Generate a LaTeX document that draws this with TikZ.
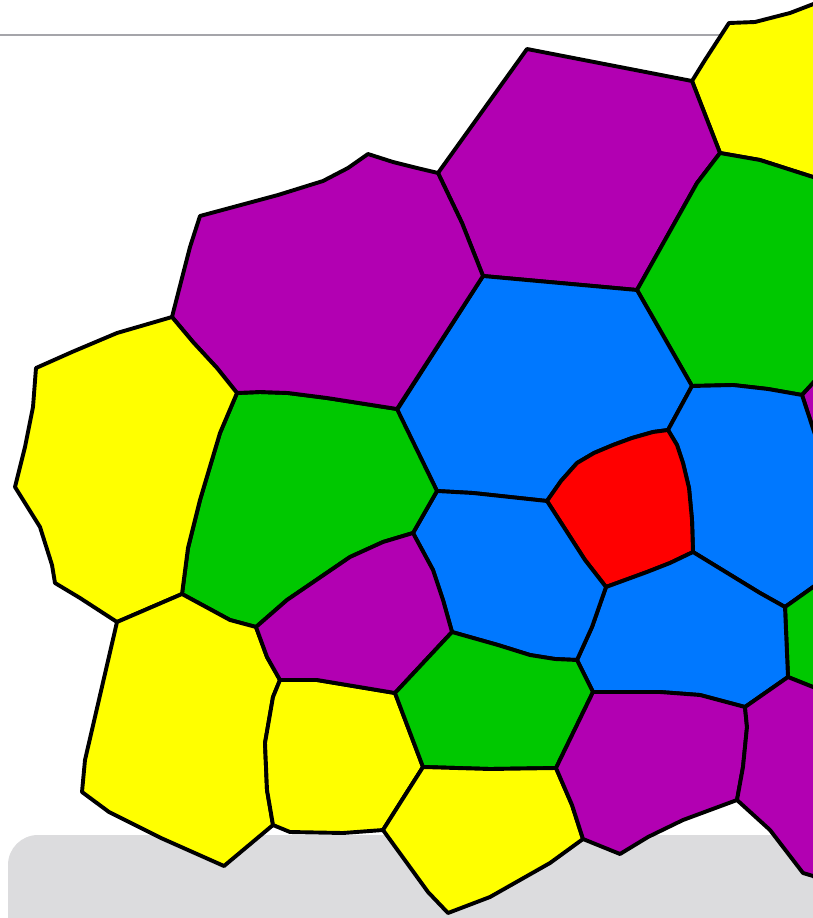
\documentclass[tikz,border=0pt]{standalone}
\begin{document}
\begin{tikzpicture}[x=1pt,y=-1pt,
  cell/.style={draw=black,line width=3.9pt,line join=round},
  cpurple/.style={cell,fill={rgb,255:red,178;green,0;blue,178}},
  cgreen/.style={cell,fill={rgb,255:red,0;green,200;blue,0}},
  cblue/.style={cell,fill={rgb,255:red,0;green,120;blue,255}},
  cyellow/.style={cell,fill={rgb,255:red,255;green,255;blue,0}},
  cred/.style={cell,fill={rgb,255:red,255;green,0;blue,0}}]
\useasboundingbox (0,0) rectangle (813,918);
\clip (0,0) rectangle (813,918);
\fill[white] (0,0) rectangle (813,918);
% header rule
\draw[line width=1.2pt,color={rgb,255:red,165;green,165;blue,170}] (0,35) -- (813,35);
% grey panel
\fill[color={rgb,255:red,220;green,220;blue,222},rounded corners=30pt] (8,835) rectangle (860,960);
% cells
\draw[cyellow] (729,23)--(755,22)--(790,13)--(850,-10)--(850,188)--(813,177)--(760,160)--(720,153)--(692,81)--(705,60)--cycle;
\draw[cpurple] (527,49)--(692,81)--(720,153)--(697,183)--(637,290)--(483,276)--(462,223)--(438,173)--cycle;
\draw[cgreen] (720,153)--(760,160)--(813,177)--(850,188)--(850,360)--(824,371)--(802,395)--(768,389)--(733,385)--(692,386)--(637,290)--(697,183)--cycle;
\draw[cpurple] (802,395)--(824,371)--(850,360)--(850,480)--(825,465)--cycle;
\draw[cblue] (483,276)--(637,290)--(692,386)--(668,430)--(653,432)--(632,438)--(613,445)--(594,453)--(577,463)--(561,481)--(547,501)--(473,493)--(437,491)--(397,410)--cycle;
\draw[cblue] (668,430)--(692,386)--(733,385)--(768,389)--(802,395)--(825,465)--(850,480)--(850,560)--(830,575)--(785,607)--(760,593)--(693,552)--(692,520)--(689,488)--(683,463)--(677,445)--cycle;
\draw[cred] (547,501)--(561,481)--(577,463)--(594,453)--(613,445)--(632,438)--(653,432)--(668,430)--(677,445)--(683,463)--(689,488)--(692,520)--(693,552)--(670,563)--(647,572)--(606,587)--(585,560)--(567,532)--cycle;
\draw[cgreen] (785,607)--(830,575)--(850,570)--(850,705)--(830,695)--(813,687)--(788,677)--cycle;
\draw[cblue] (606,587)--(647,572)--(670,563)--(693,552)--(760,593)--(785,607)--(788,677)--(745,707)--(700,695)--(660,692)--(593,692)--(577,660)--(592,627)--cycle;
\draw[cblue] (437,491)--(473,493)--(547,501)--(567,532)--(585,560)--(606,587)--(592,627)--(577,660)--(555,659)--(530,655)--(498,645)--(452,632)--(443,600)--(433,570)--(413,533)--cycle;
\draw[cgreen] (237,393)--(260,392)--(288,393)--(327,398)--(397,409)--(437,491)--(413,533)--(383,542)--(350,557)--(287,600)--(256,627)--(230,620)--(182,594)--(188,548)--(200,500)--(220,433)--cycle;
\draw[cpurple] (200,216)--(278,195)--(323,181)--(348,168)--(368,154)--(393,162)--(417,168)--(438,173)--(462,223)--(483,276)--(397,409)--(327,398)--(288,393)--(260,392)--(237,393)--(217,368)--(193,342)--(172,317)--(182,278)--(190,247)--cycle;
\draw[cyellow] (172,317)--(193,342)--(217,368)--(237,393)--(220,433)--(200,500)--(188,548)--(182,594)--(117,622)--(80,598)--(55,583)--(52,565)--(40,527)--(15,487)--(25,447)--(33,407)--(36,368)--(72,352)--(117,333)--cycle;
\draw[cyellow] (117,622)--(182,594)--(230,620)--(256,627)--(267,657)--(280,680)--(273,697)--(265,743)--(267,790)--(273,825)--(224,866)--(161,838)--(109,812)--(82,792)--(85,760)--cycle;
\draw[cyellow] (280,680)--(317,680)--(347,685)--(395,693)--(423,767)--(402,800)--(383,830)--(343,833)--(290,832)--(273,825)--(267,790)--(265,743)--(273,697)--cycle;
\draw[cpurple] (256,627)--(287,600)--(350,557)--(383,542)--(413,533)--(433,570)--(443,600)--(452,632)--(395,693)--(347,685)--(317,680)--(280,680)--(267,657)--cycle;
\draw[cgreen] (452,632)--(498,645)--(530,655)--(555,659)--(577,660)--(593,692)--(556,768)--(490,769)--(423,767)--(395,693)--cycle;
\draw[cyellow] (423,767)--(490,769)--(556,768)--(572,805)--(583,839)--(550,863)--(490,897)--(448,913)--(428,892)--(383,830)--(402,800)--cycle;
\draw[cpurple] (593,692)--(660,692)--(700,695)--(745,707)--(747,727)--(743,767)--(737,800)--(683,820)--(648,837)--(620,854)--(583,839)--(572,805)--(556,768)--cycle;
\draw[cpurple] (745,707)--(788,677)--(813,687)--(830,695)--(850,705)--(850,900)--(813,876)--(803,873)--(770,830)--(737,800)--(743,767)--(747,727)--cycle;
\end{tikzpicture}
\end{document}
